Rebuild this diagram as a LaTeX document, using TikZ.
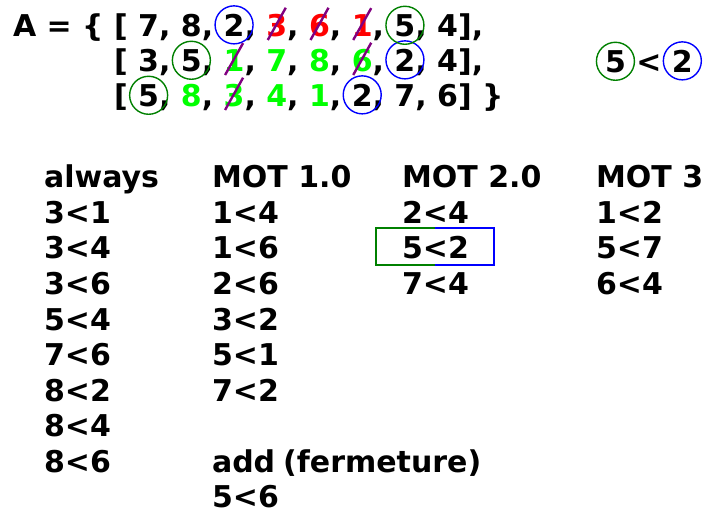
\documentclass[tikz,border=0pt]{standalone}
\usepackage{fontspec}
\setmainfont{DejaVu Sans}
\usetikzlibrary{calc}
\definecolor{ringgreen}{RGB}{0,128,0}
\definecolor{keptgreen}{RGB}{0,255,0}
\definecolor{strikepurple}{RGB}{128,0,128}
\begin{document}
\begin{tikzpicture}[x=1pt,y=-1pt,
  txt/.style={anchor=base west, inner sep=0pt, outer sep=0pt,
    font=\fontsize{30}{36}\bfseries\selectfont},
  ring/.style={draw=#1, circle, line width=1.4pt, minimum size=38pt, inner sep=0pt},
  cross/.style={draw=strikepurple, line width=2.4pt},
  frame/.style={line width=2.4pt},
]
\useasboundingbox (0,0) rectangle (703,510);

% ---- the array A, one node per digit ----
\node[txt] (head) at (13,37) {A = \{\ \null};
\node[txt] (r1s0) at (head.base east) {[\ \null};
\foreach \d/\c [count=\i, remember=\i as \j (initially 0)] in
  {7/black,8/black,2/black,3/red,6/red,1/red,5/black,4/black}{
  \node[txt, text=\c] (r1d\i) at (r1s\j.base east) {\d};
  \node[txt] (r1s\i) at (r1d\i.base east) {\ifnum\i<8 ,\ \null\else ],\fi};
}
\node[txt] (r2s0) at ([yshift=-35]r1s0.base west) {[\ \null};
\foreach \d/\c [count=\i, remember=\i as \j (initially 0)] in
  {3/black,5/black,1/keptgreen,7/keptgreen,8/keptgreen,6/keptgreen,2/black,4/black}{
  \node[txt, text=\c] (r2d\i) at (r2s\j.base east) {\d};
  \node[txt] (r2s\i) at (r2d\i.base east) {\ifnum\i<8 ,\ \null\else ],\fi};
}
\node[txt] (r3s0) at ([yshift=-35]r2s0.base west) {[\ \null};
\foreach \d/\c [count=\i, remember=\i as \j (initially 0)] in
  {5/black,8/keptgreen,3/keptgreen,4/keptgreen,1/keptgreen,2/black,7/black,6/black}{
  \node[txt, text=\c] (r3d\i) at (r3s\j.base east) {\d};
  \node[txt] (r3s\i) at (r3d\i.base east) {\ifnum\i<8 ,\ \null\else ] \}\fi};
}

% struck-out entries
\foreach \n in {r1d4,r1d5,r1d6,r2d3,r2d6,r3d3}
  \draw[cross] ([shift={(-9,3)}]\n.base) -- ([shift={(9,-7)}]\n.north);

% circled entries
\foreach \n [count=\k] in {r1d3,r2d7,r3d6}
  \node[ring=blue] (bring\k) at ([yshift=1]\n.center) {};
\foreach \n [count=\k] in {r1d7,r2d2,r3d1}
  \node[ring=ringgreen] (gring\k) at ([yshift=1]\n.center) {};

% the constraint 5 < 2
\node[txt] (q5) at (605,73) {5};
\node[txt] (qlt) at (q5.base east) {\ <\ \null};
\node[txt] (q2) at (qlt.base east) {2};
\node[ring=ringgreen] (qring5) at ([yshift=1]q5.center) {};
\node[ring=blue] (qring2) at ([yshift=1]q2.center) {};

% ---- columns of constraints ----
\foreach \t [count=\k from 0] in {always,3<1,3<4,3<6,5<4,7<6,8<2,8<4,8<6}
  \node[txt] (al\k) at (44,{188+35.5*\k}) {\t};
\foreach \t [count=\k from 0] in {MOT 1.0,1<4,1<6,2<6,3<2,5<1,7<2}
  \node[txt] (ma\k) at (212,{188+35.5*\k}) {\t};
\node[txt] (addw) at (212,{188+35.5*8}) {add};
\node[txt] (ferm) at ([xshift=8]addw.base east) {(fermeture)};
\node[txt] (ma9) at (212,{188+35.5*9}) {5<6};
\foreach \t [count=\k from 0] in {MOT 2.0,2<4,5<2,7<4}
  \node[txt] (mb\k) at (402,{188+35.5*\k}) {\t};
\foreach \t [count=\k from 0] in {MOT 3,1<2,5<7,6<4}
  \node[txt] (mc\k) at (596,{188+35.5*\k}) {\t};

% two-coloured frame around 5<2
\coordinate (boxnw) at ([shift={(-26,-31)}]mb2.base west);
\coordinate (boxse) at ([shift={(25,6)}]mb2.base east);
\coordinate (boxmid) at ($(boxnw)!.5!(boxse)$);
\draw[frame, ringgreen] (boxmid |- boxnw) -- (boxnw) -- (boxnw |- boxse) -- (boxmid |- boxse);
\draw[frame, blue] (boxmid |- boxnw) -- (boxse |- boxnw) -- (boxse) -- (boxmid |- boxse);
\end{tikzpicture}
\end{document}
